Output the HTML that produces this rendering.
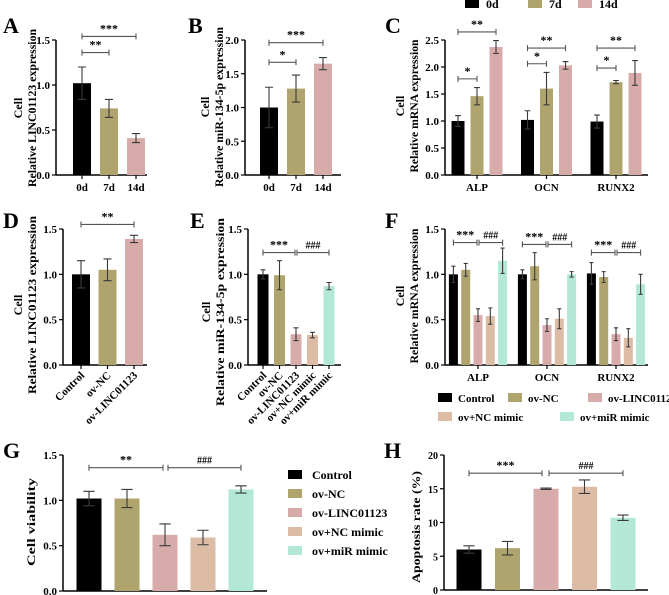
<!DOCTYPE html>
<html><head><meta charset="utf-8">
<style>
html,body{margin:0;padding:0;background:#fff;}
svg{display:block;font-family:"Liberation Serif",serif;font-weight:bold;}
</style></head>
<body>
<svg id="fig" width="669" height="595" viewBox="0 0 669 595" xmlns="http://www.w3.org/2000/svg"></svg>
<script>
// ---- data ----
const timeCats = ["0d","7d","14d"];
const aVals = [1.02,0.74,0.41];
const aErr = [0.18,0.1,0.05];
const bVals = [1.0,1.28,1.65];
const bErr = [0.3,0.2,0.09];
const geneCats = ["ALP","OCN","RUNX2"];
const c0d = [1.0,1.02,0.99];
const c0dErr = [0.1,0.17,0.12];
const c7d = [1.46,1.6,1.72];
const c7dErr = [0.16,0.3,0.03];
const c14d = [2.37,2.03,1.89];
const c14dErr = [0.12,0.07,0.23];
const dCats = ["Control","ov-NC","ov-LINC01123"];
const dVals = [1.0,1.05,1.39];
const dErr = [0.15,0.12,0.04];
const groupCats = ["Control","ov-NC","ov-LINC01123","ov+NC mimic","ov+miR mimic"];
const eVals = [1.0,0.99,0.34,0.33,0.87];
const eErr = [0.05,0.16,0.07,0.03,0.04];
const fControl = [1.0,1.0,1.01];
const fControlErr = [0.09,0.05,0.12];
const fNC = [1.05,1.09,0.97];
const fNCErr = [0.07,0.15,0.06];
const fLINC = [0.55,0.44,0.34];
const fLINCErr = [0.07,0.07,0.07];
const fNCmimic = [0.54,0.51,0.3];
const fNCmimicErr = [0.09,0.11,0.1];
const fMiR = [1.15,1.0,0.89];
const fMiRErr = [0.14,0.03,0.11];
const gVals = [1.02,1.02,0.62,0.59,1.12];
const gErr = [0.08,0.1,0.12,0.08,0.04];
const hVals = [6.0,6.2,15.0,15.3,10.7];
const hErr = [0.55,1.0,0.1,1.0,0.4];
const ticks15 = [0,0.5,1.0,1.5];
const ticks20 = [0,0.5,1.0,1.5,2.0];
const ticks25 = [0,0.5,1.0,1.5,2.0,2.5];
const ticksH = [0,5,10,15,20];

const COL = ["#000000","#b0a46e","#d8abab","#dcbca5","#b2e8d5"];
const NS = "http://www.w3.org/2000/svg";
const svg = document.getElementById("fig");
function mk(tag, attrs, parent, text){
  const e = document.createElementNS(NS, tag);
  for (const k in attrs) e.setAttribute(k, attrs[k]);
  if (text !== undefined) e.textContent = text;
  (parent || svg).appendChild(e);
  return e;
}

function panel(p){
  const g = mk("g", {});
  
  
  const y = v => p.y0 - v / p.max * (p.y0 - p.y1);
  const ax = mk("line",{x1:p.ax,y1:p.y1,x2:p.ax,y2:p.y0,stroke:"#000","stroke-width":1.5},g);
  
  
  const xa = mk("line",{x1:p.ax,y1:p.y0,x2:p.axEnd,y2:p.y0,stroke:"#000","stroke-width":1.5},g);
  
  
  p.ticks.forEach(t => {
    mk("line",{x1:p.ax-4,y1:y(t),x2:p.ax,y2:y(t),stroke:"#000","stroke-width":1.2},g);
    const tl = mk("text",{x:p.ax-6,y:y(t)+4,"text-anchor":"end","font-size":p.tickFs||11},g,
      p.intTicks ? String(t) : t.toFixed(1));
    
    
  });
  p.series.forEach((s, si) => {
    s.vals.forEach((v, i) => {
      const cx = p.cx(i, si);
      const r = mk("rect",{x:cx-p.bw/2,y:y(v),width:p.bw,height:p.y0-y(v),fill:COL[s.color]},g);
      
      
      const e = s.err[i], cw = Math.max(4, p.bw*0.45);
      const eb = mk("path",{d:`M${cx},${y(v-e)}V${y(v+e)}M${cx-cw/2},${y(v+e)}H${cx+cw/2}M${cx-cw/2},${y(v-e)}H${cx+cw/2}`,
        stroke:"#3a3a3a","stroke-width":1.1,fill:"none"},g);
      
      
    });
  });
  p.cats.forEach((c, i) => {
    const cx = p.catX(i);
    mk("line",{x1:cx,y1:p.y0,x2:cx,y2:p.y0+4,stroke:"#000","stroke-width":1.2},g);
    let t;
    if (p.rot) {
      t = mk("text",{x:cx+4,y:p.y0+11,"text-anchor":"end","font-size":11,
        transform:`rotate(-45 ${cx+4} ${p.y0+11})`},g,c);
    } else {
      t = mk("text",{x:cx,y:p.y0+16,"text-anchor":"middle","font-size":11},g,c);
    }
    
    
  });
  (p.brackets||[]).forEach(b => {
    const by = y(b.v), xa = b.x1, xb = b.x2;
    const br = mk("path",{d:`M${xa},${by-3}V${by+3}M${xa},${by}H${xb}M${xb},${by-3}V${by+3}`,
      stroke:"#555","stroke-width":1.1,fill:"none"},g);
    
    
    const st = mk("text",{x:(xa+xb)/2,y:by-4,"text-anchor":"middle","font-size":b.s[0]==="#"?10:12},g,b.s);
    
    
  });
  const L = mk("text",{x:p.lx,y:p.ly,"font-size":22},g,p.letter);
  
  
  const cy = p.ylcy;
  p.ylab.forEach((s, k) => {
    const xx = p.ylx + k*14;
    const attrs = {x:xx,y:cy,"text-anchor":"middle","font-size":12,
      transform:`rotate(-90 ${xx} ${cy})`};
    if (k === p.ylab.length-1 && p.yllen) { attrs.textLength = p.yllen; attrs.lengthAdjust = "spacingAndGlyphs"; }
    const t = mk("text",attrs,g,s);
    
    
  });
  return {y};
}

function simple(c0, step){ return i => c0 + i*step; }

// A
{
const cx = simple(82,27);
const p = {name:"panel-a",letter:"A",lx:3,ly:33,ax:56,axEnd:147,y0:175,y1:40,max:1.5,ticks:ticks15,bw:18,
  cats:timeCats,catX:cx,ylab:["Cell","Relative LINC01123 expression"],ylx:22,ylcy:108,yllen:158};
p.series = aVals.map((v,i)=>({vals:[v],err:[aErr[i]],color:i}));
p.cx = (i,si)=>cx(si);
p.brackets=[{x1:cx(0),x2:cx(1),v:1.36,s:"**"},{x1:cx(0),x2:cx(2),v:1.54,s:"***"}];
panel(p);
}
// B
{
const cx = simple(269,27);
const p = {name:"panel-b",letter:"B",lx:188,ly:33,ax:245,axEnd:341,y0:175,y1:40,max:2.0,ticks:ticks20,bw:18,
  cats:timeCats,catX:cx,ylab:["Cell","Relative miR-134-5p expression"],ylx:209,ylcy:107,yllen:160};
p.series = bVals.map((v,i)=>({vals:[v],err:[bErr[i]],color:i}));
p.cx = (i,si)=>cx(si);
p.brackets=[{x1:cx(0),x2:cx(1),v:1.67,s:"*"},{x1:cx(0),x2:cx(2),v:1.96,s:"***"}];
panel(p);
}
// C
{
const gx = simple(477,69.5), off = 19;
const bx = (g,s)=>gx(g)+(s-1)*off;
const p = {name:"panel-c",letter:"C",lx:385,ly:33,ax:445,axEnd:648,y0:175,y1:40,max:2.5,ticks:ticks25,bw:13,
  cats:geneCats,catX:gx,ylab:["Cell","Relative mRNA expression"],ylx:404,ylcy:106,yllen:133};
p.series=[{vals:c0d,err:c0dErr,color:0},{vals:c7d,err:c7dErr,color:1},{vals:c14d,err:c14dErr,color:2}];
p.cx=(i,si)=>bx(i,si);
p.brackets=[{x1:bx(0,0),x2:bx(0,1),v:1.78,s:"*"},{x1:bx(0,0),x2:bx(0,2),v:2.65,s:"**"},
 {x1:bx(1,0),x2:bx(1,1),v:2.06,s:"*"},{x1:bx(1,0),x2:bx(1,2),v:2.35,s:"**"},
 {x1:bx(2,0),x2:bx(2,1),v:1.98,s:"*"},{x1:bx(2,0),x2:bx(2,2),v:2.35,s:"**"}];
panel(p);
}
// D
{
const cx = simple(81,26.5);
const p = {name:"panel-d",letter:"D",lx:3,ly:228,ax:63,axEnd:147,y0:365,y1:229,max:1.5,ticks:ticks15,bw:18,
  cats:dCats,catX:cx,rot:true,ylab:["Cell","Relative LINC01123 expression"],ylx:22,ylcy:305,yllen:178};
p.series = dVals.map((v,i)=>({vals:[v],err:[dErr[i]],color:i}));
p.cx=(i,si)=>cx(si);
p.brackets=[{x1:cx(0),x2:cx(2),v:1.55,s:"**"}];
panel(p);
}
// E
{
const cx = simple(263,16.5);
const p = {name:"panel-e",letter:"E",lx:190,ly:228,ax:248,axEnd:341,y0:365,y1:229,max:1.5,ticks:ticks15,bw:11,
  cats:groupCats,catX:cx,rot:true,ylab:["Cell","Relative miR-134-5p expression"],ylx:210,ylcy:312,yllen:188};
p.series = eVals.map((v,i)=>({vals:[v],err:[eErr[i]],color:i}));
p.cx=(i,si)=>cx(si);
p.brackets=[{x1:cx(0),x2:cx(2)-1,v:1.24,s:"***"},{x1:cx(2)+1,x2:cx(4),v:1.24,s:"###"}];
panel(p);
}
// F
{
const gx = simple(478,69), off = 12.3;
const bx=(g,s)=>gx(g)+(s-2)*off;
const p = {name:"panel-f",letter:"F",lx:385,ly:228,ax:445,axEnd:648,y0:365,y1:229,max:1.5,ticks:ticks15,bw:9,
  cats:geneCats,catX:gx,ylab:["Cell","Relative mRNA expression"],ylx:404,ylcy:296,yllen:135};
p.series=[{vals:fControl,err:fControlErr,color:0},{vals:fNC,err:fNCErr,color:1},{vals:fLINC,err:fLINCErr,color:2},
  {vals:fNCmimic,err:fNCmimicErr,color:3},{vals:fMiR,err:fMiRErr,color:4}];
p.cx=(i,si)=>bx(i,si);
p.brackets=[];
[1.35,1.33,1.24].forEach((v,g)=>{
  p.brackets.push({x1:bx(g,0),x2:bx(g,2)-1,v:v,s:"***"});
  p.brackets.push({x1:bx(g,2)+1,x2:bx(g,4),v:v,s:"###"});
});
panel(p);
}
// G
{
const cx = simple(89,38);
const p = {name:"panel-g",letter:"G",lx:3,ly:458,ax:63,axEnd:267,y0:591,y1:455,max:1.5,ticks:ticks15,bw:25,
  cats:[],catX:cx,ylab:["Cell viability"],ylx:35,ylcy:522,yllen:88};
p.series = gVals.map((v,i)=>({vals:[v],err:[gErr[i]],color:i}));
p.cx=(i,si)=>cx(si);
p.brackets=[{x1:cx(0),x2:cx(2)-2,v:1.36,s:"**"},{x1:cx(2)+3,x2:cx(4),v:1.36,s:"###"}];
panel(p);
}
// H
{
const cx = simple(469,38.5);
const p = {name:"panel-h",letter:"H",lx:384,ly:458,ax:444,axEnd:648,y0:590,y1:455,max:20,ticks:ticksH,intTicks:true,tickFs:10,bw:25,
  cats:[],catX:cx,ylab:["Apoptosis rate (%)"],ylx:420,ylcy:527,yllen:112};
p.series = hVals.map((v,i)=>({vals:[v],err:[hErr[i]],color:i}));
p.cx=(i,si)=>cx(si);
p.brackets=[{x1:cx(0),x2:cx(2)-4,v:17.3,s:"***"},{x1:cx(2)+3,x2:cx(4),v:17.3,s:"###"}];
panel(p);
}

// Legends
function legendEntry(x, y, col, label, fs, gap){
  const g = mk("g",{});
  
  
  mk("rect",{x:x,y:y-5,width:14,height:9,fill:col},g);
  mk("text",{x:x+gap,y:y+4,"font-size":fs},g,label);
}
timeCats.forEach((c,i)=>legendEntry([465,528,578][i],4,COL[i],c,12,21));
const fLegX = [438,508,588,438,560], fLegY = [398,398,398,417,417];
groupCats.forEach((c,i)=>legendEntry(fLegX[i],fLegY[i],COL[i],c,11,20));
groupCats.forEach((c,i)=>legendEntry(288,475+i*19,COL[i],c,12,24));
</script>
</body></html>
